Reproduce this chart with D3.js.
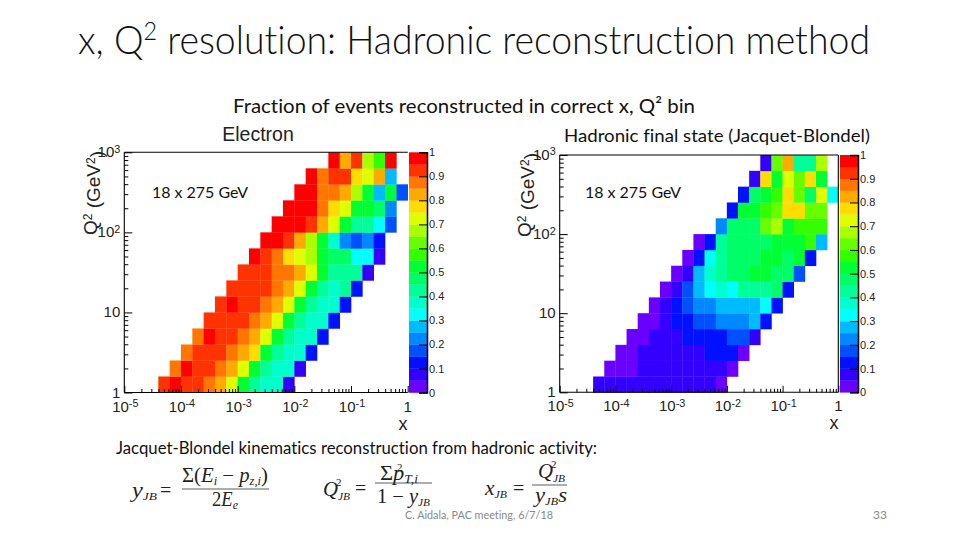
<!DOCTYPE html>
<html><head><meta charset="utf-8">
<script src="https://cdn.jsdelivr.net/npm/d3@7"></script>
<style>html,body{margin:0;padding:0;background:#fff}svg{display:block}text{font-variant-ligatures:none}</style>
</head><body><svg id="c" width="960" height="540"></svg>
<script>
// Cell values: rows listed bottom (Q2 = 1) to top (Q2 = 1000); start = first x-bin of each row
const electronStart = [3,4,5,6,7,8,9,10,11,12,13,14,15,16,18];
const electronValues = [
 [.92,.97,.92,.92,.87,.82,.72,.52,.42,.37,.37,.07],
 [.87,.97,.92,.92,.87,.82,.72,.52,.42,.37,.37,.07],
 [.87,.92,.92,.92,.87,.82,.77,.52,.42,.37,.37,.12],
 [.87,.97,.92,.92,.87,.82,.72,.52,.42,.37,.37,.12],
 [.92,.92,.92,.92,.87,.82,.72,.52,.42,.37,.37,.12],
 [.92,.97,.92,.92,.87,.82,.72,.52,.42,.37,.37,.12],
 [.92,.92,.92,.92,.87,.82,.72,.52,.42,.37,.42,.12],
 [.92,.92,.92,.87,.87,.82,.72,.52,.42,.42,.42,.07],
 [.97,.92,.87,.77,.72,.67,.52,.47,.47,.32,.32,.07],
 [.97,.97,.92,.82,.67,.52,.37,.22,.17,.22,.12],
 [.97,.97,.97,.92,.82,.72,.52,.42,.42,.32,.17],
 [.97,.97,.97,.87,.77,.72,.52,.52,.47,.22],
 [.97,.97,.87,.87,.82,.67,.52,.27,.52,.17],
 [.97,.87,.92,.92,.77,.72,.82,.27],
 [.97,.82,.92,.67,.57,.97]
];
const hadronStart = [3,4,5,6,7,8,9,10,11,12,14,15,16,17,18];
const hadronValues = [
 [.07,.07,.07,.07,.07,.07,.07,.07,.07,.07,.07,.02],
 [.02,.02,.02,.07,.07,.07,.07,.07,.07,.07,.07,.02],
 [.02,.02,.07,.07,.07,.07,.07,.07,.12,.12,.12,.02],
 [.02,.02,.07,.07,.07,.12,.12,.12,.12,.17,.17,.07],
 [.02,.02,.07,.12,.12,.17,.17,.22,.22,.22,.27,.12],
 [.02,.07,.12,.17,.22,.22,.27,.27,.27,.27,.32,.12],
 [.02,.07,.17,.27,.32,.37,.32,.42,.42,.42,.47,.12],
 [.02,.07,.27,.37,.42,.47,.47,.52,.52,.47,.47,.17],
 [.02,.12,.32,.42,.47,.47,.47,.52,.52,.47,.52,.12],
 [.02,.12,.42,.47,.47,.47,.47,.52,.52,.52,.57,.27],
 [.22,.47,.47,.47,.62,.67,.52,.57,.57,.57],
 [.12,.52,.52,.57,.62,.77,.77,.62,.6],
 [.12,.47,.52,.57,.77,.62,.47,.72,.32],
 [.07,.77,.52,.72,.62,.77,.52],
 [.07,.62,.82,.42,.42,.67]
];
const paletteColors = ["#6a00ff","#3300ff","#0011ff","#0050ff","#0088ff","#00bbff","#00ffff","#00ffcc","#00ff99","#00ff66",
 "#00ff33","#33ff00","#66ff00","#aaff00","#ddff00","#ffdd00","#ffaa00","#ff7700","#ff3300","#ff0000"];
const xTickExponents = [-5,-4,-3,-2,-1,0];
const yTickExponents = [0,1,2,3];
const barTicks = [0,.1,.2,.3,.4,.5,.6,.7,.8,.9,1];

const svg = d3.select("#c");
const color = d3.scaleQuantize().domain([0,1]).range(paletteColors);
const binEdge = (i, lo, step) => Math.pow(10, lo + i*step);
const sup = (sel, base, exp) => {
  sel.append("tspan").text(base);
  if (exp !== null) sel.append("tspan").attr("dy", "-0.42em").attr("font-size", "0.72em").text(exp);
};
const SANS = "'Liberation Sans',Arial,sans-serif";

function panel(o){
  const x = d3.scaleLog().domain([1e-5,1]).range([o.l,o.r]);
  const y = d3.scaleLog().domain([1,1000]).range([o.b,o.t]);
  const g = svg.append("g");
  o.values.forEach((row,r) => row.forEach((v,k) => {
    const c = o.start[r]+k;
    g.append("rect")
      .attr("x", x(binEdge(c,-5,.2))).attr("y", y(binEdge(r+1,0,.2)))
      .attr("width", x(binEdge(c+1,-5,.2))-x(binEdge(c,-5,.2))+.3)
      .attr("height", y(binEdge(r,0,.2))-y(binEdge(r+1,0,.2))+.3)
      .attr("fill", color(v));
  }));
  // frame
  const fr = [[o.l,o.t,o.r,o.t],[o.l,o.t,o.l,o.b],[o.l,o.b,o.r,o.b]];
  if (o.rightFrame) fr.push([o.r,o.t,o.r,o.b]);
  fr.forEach(s=>g.append("line").attr("x1",s[0]).attr("y1",s[1]).attr("x2",s[2]).attr("y2",s[3]).attr("stroke","#000").attr("stroke-width",1.1));
  // log ticks
  const xMinor = [], yMinor = [];
  for (let e=-5;e<0;e++) for (let m=2;m<10;m++) xMinor.push(m*Math.pow(10,e));
  for (let e=0;e<3;e++) for (let m=2;m<10;m++) yMinor.push(m*Math.pow(10,e));
  const ax = (sel,axis) => { sel.call(axis); sel.select(".domain").remove(); sel.selectAll("text").remove(); sel.selectAll("line").attr("stroke","#000"); };
  g.append("g").attr("transform",`translate(0,${o.b})`).call(ax,d3.axisBottom(x).tickValues(xMinor).tickSize(-3.5));
  g.append("g").attr("transform",`translate(0,${o.b})`).call(ax,d3.axisBottom(x).tickValues(xTickExponents.map(e=>Math.pow(10,e))).tickSize(-6.5));
  g.append("g").attr("transform",`translate(${o.l},0)`).call(ax,d3.axisLeft(y).tickValues(yMinor).tickSize(-4));
  g.append("g").attr("transform",`translate(${o.l},0)`).call(ax,d3.axisLeft(y).tickValues(yTickExponents.map(e=>Math.pow(10,e))).tickSize(-8));
  // tick labels
  xTickExponents.forEach(e=>{
    const t = g.append("text").attr("x",x(Math.pow(10,e))+(e===0?0:1)).attr("y",o.b+19).attr("text-anchor","middle")
      .attr("font-family",SANS).attr("font-size",15).attr("fill","#222");
    sup(t, e===0?"1":"10", e===0?null:String(e));
  });
  yTickExponents.forEach(e=>{
    const t = g.append("text").attr("x",o.l-4).attr("y",y(Math.pow(10,e))+5).attr("text-anchor","end")
      .attr("font-family",SANS).attr("font-size",15).attr("fill","#222");
    if (e<2) t.text(e===0?"1":"10"); else sup(t,"10",String(e));
  });
  // axis titles
  g.append("text").attr("x",o.xtx).attr("y",o.b+37).attr("text-anchor","middle")
    .attr("font-family",SANS).attr("font-size",18).attr("fill","#222").text("x");
  const yt = g.append("text").attr("transform",`translate(${o.ytx},${o.yty}) rotate(-90)`).attr("text-anchor","middle")
    .attr("font-family",SANS).attr("font-size",19).attr("fill","#222");
  yt.append("tspan").text("Q");
  yt.append("tspan").attr("dy","-0.4em").attr("font-size",12).text("2");
  yt.append("tspan").attr("dy","0.4em").text(" (GeV");
  yt.append("tspan").attr("dy","-0.4em").attr("font-size",12).text("2");
  yt.append("tspan").attr("dy","0.4em").text(")");
  // colour bar
  const c = d3.scaleLinear().domain([0,1]).range([o.b,o.t]);
  paletteColors.forEach((col,i)=>{
    g.append("rect").attr("x",o.cl).attr("y",c((i+1)/20)).attr("width",o.cr-o.cl)
      .attr("height",c(i/20)-c((i+1)/20)+.3).attr("fill",col);
  });
  const ca = g.append("g").attr("transform",`translate(${o.cr},0)`)
    .call(d3.axisRight(c).tickValues(barTicks).tickSize(-8).tickFormat(d=>d===0||d===1?String(d):d3.format(".1f")(d)));
  ca.select(".domain").attr("stroke","#000").attr("stroke-width",1.5);
  ca.selectAll("line").attr("stroke","#000");
  ca.selectAll("text").attr("x",2).attr("font-family",SANS).attr("font-size",11).attr("fill","#222");
  // energy label
  svg.append("text").attr("x",o.ex).attr("y",198).attr("font-family","Lato,'Open Sans',sans-serif").attr("font-size",16)
    .attr("fill","#111").attr("textLength",96).attr("lengthAdjust","spacingAndGlyphs").text("18 x 275 GeV");
}
panel({values:electronValues,start:electronStart,l:124.3,r:407.7,t:152.3,b:392.5,cl:409,cr:427,xtx:403,ytx:97,yty:193,ex:152,rightFrame:false});
panel({values:hadronValues,start:hadronStart,l:559.7,r:838.3,t:155,b:392.3,cl:840,cr:858,xtx:834,ytx:531,yty:195,ex:585,rightFrame:true});

const LATO = "Lato,'Open Sans',sans-serif";
const text = (x,y,s,size,fill,anchor,fam,len) => {
  const t = svg.append("text").attr("x",x).attr("y",y).attr("font-size",size).attr("fill",fill||"#111")
    .attr("text-anchor",anchor||"start").attr("font-family",fam||LATO).text(s);
  if (len) t.attr("textLength",len).attr("lengthAdjust","spacingAndGlyphs");
  return t;
};
const title = svg.append("text").attr("x",78).attr("y",54).attr("font-size",40).attr("font-family",LATO).attr("font-weight",300).attr("fill","#111").attr("textLength",792).attr("lengthAdjust","spacingAndGlyphs");
title.append("tspan").text("x, Q");
title.append("tspan").attr("dy",-14).attr("font-size",25).text("2");
title.append("tspan").attr("dy",14).text(" resolution: Hadronic reconstruction method");
text(233,113,"Fraction of events reconstructed in correct x, Q² bin",20,"#111","start",LATO,462);
text(564,142,"Hadronic final state (Jacquet-Blondel)",18,"#111","start",LATO,306);
text(258,141,"Electron",19.5,"#222","middle",SANS);
text(116,454,"Jacquet-Blondel kinematics reconstruction from hadronic activity:",17,"#111","start",LATO,481);
text(405,519,"C. Aidala, PAC meeting, 6/7/18",12,"#888","start",LATO,148);
text(887,519,"33",12,"#888","end",LATO);

// Formulas: each run is [text, italic?, shift relative to the baseline, size]
const SERIF = "'Liberation Serif','DejaVu Serif',serif";
function formula(x, y, runs, len){
  const t = svg.append("text").attr("x",x).attr("y",y).attr("font-family",SERIF).attr("fill","#222");
  let prev = 0;
  runs.forEach(r=>{
    t.append("tspan").attr("dy",(r[2]||0)-prev).attr("font-size",r[3]||20)
      .attr("font-style",r[1]?"italic":"normal").text(r[0]);
    prev = r[2]||0;
  });
  if (len) t.attr("textLength",len).attr("lengthAdjust","spacingAndGlyphs");
}
formula(132,497,[["y",1],["JB",1,3,11]],25);
formula(160,497,[["=",0]]);
formula(182,482,[["Σ(",0],["E",1],["i",1,3,12],[" − ",0],["p",1],["z,i",1,3,12],[")",0]],86);
formula(212,506,[["2",0],["E",1],["e",1,3,13]],26);
formula(323,496,[["Q",1],["JB",1,4,11]],27);
formula(355,495,[["=",0]]);
formula(380,480,[["Σ",0],["p",1],["T,i",1,3,12]],38);
formula(397,471,[["2",0,0,11]]);
formula(336,486,[["2",0,0,11]]);
formula(377,503,[["1 − ",0],["y",1],["JB",1,3,11]],53);
formula(485,495,[["x",1],["JB",1,3,11]],22);
formula(513,495,[["=",0]]);
formula(538,478,[["Q",1],["JB",1,4,11]],27);
formula(551,468,[["2",0,0,11]]);
formula(535,502,[["y",1],["JB",1,3,11],["s",1]],32);
[[182,269,489],[375,432,483],[532,567,485]].forEach(d=>{
  svg.append("line").attr("x1",d[0]).attr("x2",d[1]).attr("y1",d[2]).attr("y2",d[2]).attr("stroke","#333").attr("stroke-width",.8);
});
</script></body></html>
